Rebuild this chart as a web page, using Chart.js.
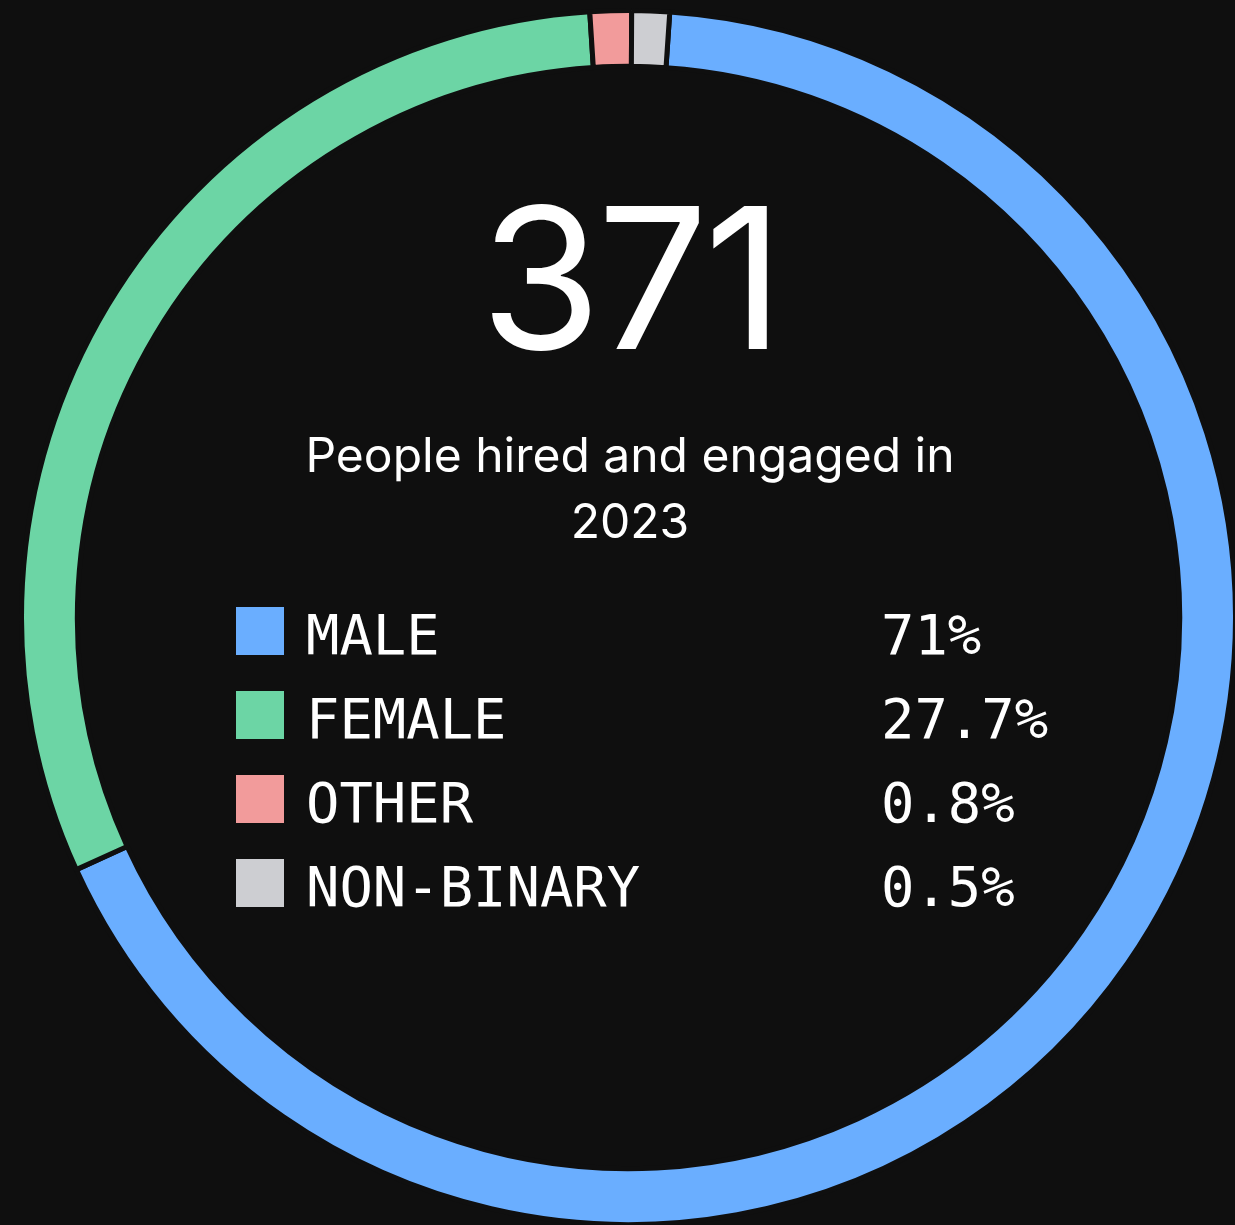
<!DOCTYPE html>
<html>
<head>
<meta charset="utf-8">
<script src="https://cdn.jsdelivr.net/npm/chart.js@4.4.1/dist/chart.umd.min.js"></script>
<style>
  html, body {
    margin: 0;
    padding: 0;
    background: #0f0f0f;
    width: 1235px;
    height: 1225px;
    overflow: hidden;
  }
  #ring {
    position: absolute;
    left: 19px;
    top: 8px;
    width: 1219px;
    height: 1219px;
  }
  .big {
    position: absolute;
    left: 0;
    width: 1260px;
    top: 180px;
    text-align: center;
    font-family: Inter, "Noto Sans", sans-serif;
    font-size: 196px;
    line-height: 196px;
    color: #ffffff;
    letter-spacing: -4px;
  }
  .caption {
    position: absolute;
    left: 280px;
    width: 700px;
    top: 422px;
    text-align: center;
    font-family: Inter, "Noto Sans", sans-serif;
    font-size: 48px;
    line-height: 66px;
    color: #ffffff;
  }
  .legend {
    position: absolute;
    left: 236px;
    top: 607px;
    font-family: "DejaVu Sans Mono", monospace;
    font-size: 55.5px;
    color: #ffffff;
  }
  .row {
    position: relative;
    height: 48px;
    margin-bottom: 36px;
  }
  .swatch {
    position: absolute;
    left: 0;
    top: 0;
    width: 48px;
    height: 48px;
  }
  .name, .pct {
    position: absolute;
    top: 4px;
    line-height: 48px;
    white-space: nowrap;
  }
  .name { left: 70px; }
  .pct { left: 645px; }
</style>
</head>
<body>
<div id="ring"><canvas id="chart" width="1219" height="1219"></canvas></div>
<div class="big" id="total"></div>
<div class="caption" id="caption"></div>
<div class="legend" id="legend"></div>

<script>
// chart data
const total = '371';
const caption = 'People hired and engaged in 2023';
const categories = ['MALE', 'FEMALE', 'OTHER', 'NON-BINARY'];
const shareLabels = ['71%', '27.7%', '0.8%', '0.5%'];
// arc sizes as they appear in the ring (percent of circle)
const arcValues = [67.1, 30.8, 1.1, 1.0];

const colors = ['#6aaeff', '#6cd5a5', '#f29b9b', '#cdced2'];
const bg = '#0f0f0f';

document.getElementById('total').textContent = total;
document.getElementById('caption').textContent = caption;

// legend rows
const legend = document.getElementById('legend');
categories.forEach((name, i) => {
  const row = document.createElement('div');
  row.className = 'row';
  row.innerHTML =
    '<div class="swatch" style="background:' + colors[i] + '"></div>' +
    '<span class="name"></span><span class="pct"></span>';
  row.querySelector('.name').textContent = name;
  row.querySelector('.pct').textContent = shareLabels[i];
  legend.appendChild(row);
});

const ctx = document.getElementById('chart').getContext('2d');
new Chart(ctx, {
  type: 'doughnut',
  data: {
    labels: categories,
    datasets: [{
      data: arcValues,
      backgroundColor: colors,
      borderColor: bg,
      borderWidth: 5,
      hoverOffset: 0
    }]
  },
  options: {
    responsive: false,
    devicePixelRatio: 1,
    animation: false,
    cutout: '90.8%',
    rotation: 3.9,
    layout: { padding: 0 },
    plugins: {
      legend: { display: false },
      tooltip: { enabled: false }
    }
  }
});
</script>
</body>
</html>
